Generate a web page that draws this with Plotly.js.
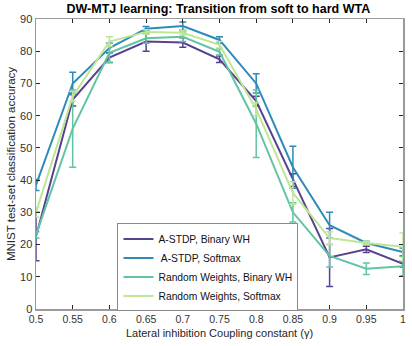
<!DOCTYPE html>
<html><head><meta charset="utf-8">
<script src="https://cdn.plot.ly/plotly-3.0.1.min.js"></script>
<style>html,body{margin:0;padding:0;background:#fff}#chart{width:412px;height:346px}</style>
</head><body><div id="chart"></div>
<script>
var gammaValues = [0.5,0.55,0.6,0.65,0.7,0.75,0.8,0.85,0.9,0.95,1.0];
var xTickText = ['0.5','0.55','0.6','0.65','0.7','0.75','0.8','0.85','0.9','0.95','1'];
var seriesNames = ['A-STDP, Binary WH', ' A-STDP, Softmax', 'Random Weights, Binary WH', 'Random Weights, Softmax'];
var seriesColors = ['#58418f', '#2e8bb8', '#62c4a2', '#bfe597'];
var astdpBinary    = [22.5, 65, 78, 83, 82.7, 77.5, 64.5, 40, 16, 18.5, 14];
var astdpBinaryErr = [7.5, 2, 1.5, 3, 1.5, 1, 1.5, 2, 9, 1, 1];
var astdpSoft      = [38.5, 70, 81, 87, 87.8, 83.5, 70, 44, 26, 20.5, 17.7];
var astdpSoftErr   = [1.7, 3.5, 1.5, 0.7, 1.3, 1, 3, 6.5, 4, 0.5, 1.2];
var randBinary     = [23, 56, 79.5, 84, 84.5, 79.8, 57.5, 30, 16.5, 12.5, 13.3];
var randBinaryErr  = [1, 12, 3, 1.5, 1.5, 1, 10.5, 3, 3.5, 1.8, 3];
var randSoft       = [30, 66, 83, 86, 85.7, 82, 62, 36, 22, 20.5, 19.3];
var randSoftErr    = [1.5, 1.5, 1.5, 0.7, 0.7, 1, 2, 3.5, 2, 0.5, 4.3];

var ys = [astdpBinary, astdpSoft, randBinary, randSoft];
var es = [astdpBinaryErr, astdpSoftErr, randBinaryErr, randSoftErr];
var traces = ys.map(function(y, i){
  return {
    x: gammaValues, y: y, name: seriesNames[i], type: 'scatter', mode: 'lines',
    line: {color: seriesColors[i], width: 2},
    error_y: {type: 'data', array: es[i], visible: true, color: seriesColors[i], thickness: 1.5, width: 3.5}
  };
});
var fontFam = 'Liberation Sans, Arial, sans-serif';
var layout = {
  width: 412, height: 346,
  margin: {l: 36, r: 9, t: 19, b: 37},
  paper_bgcolor: '#fff', plot_bgcolor: '#fff',
  font: {family: fontFam, size: 11, color: '#262626'},
  title: {text: '<b>DW-MTJ learning: Transition from soft to hard WTA</b>', font: {family: fontFam, size: 12.5, color: '#000'}, x: 0.53, xanchor: 'center', y: 0.988, yanchor: 'top'},
  xaxis: {
    range: [0.5, 1.0], tickvals: gammaValues, ticktext: xTickText,
    ticks: 'inside', ticklen: 4, tickcolor: '#262626', mirror: 'ticks', showline: true, linecolor: '#9a9a9a', linewidth: 1.5,
    showgrid: false, zeroline: false, tickfont: {size: 10.5, color: '#333'},
    title: {text: 'Lateral inhibition Coupling constant (γ)', font: {size: 11, color: '#262626'}, standoff: 5}
  },
  yaxis: {
    range: [0, 90], dtick: 10, tick0: 0,
    ticks: 'inside', ticklen: 4, tickcolor: '#262626', mirror: 'ticks', showline: true, linecolor: '#9a9a9a', linewidth: 1.5,
    showgrid: false, zeroline: false, tickfont: {size: 11, color: '#333'},
    title: {text: 'MNIST test-set classification accuracy', font: {size: 11.5, color: '#262626'}, standoff: 2}
  },
  legend: {x: 0.222, y: 0.295, xanchor: 'left', yanchor: 'top', bgcolor: '#fff', bordercolor: '#8a8a8a', borderwidth: 1,
    font: {size: 10.3, color: '#111'}, tracegroupgap: 0, itemwidth: 30},
  showlegend: true
};
Plotly.newPlot('chart', traces, layout, {staticPlot: true, displayModeBar: false});
</script></body></html>
